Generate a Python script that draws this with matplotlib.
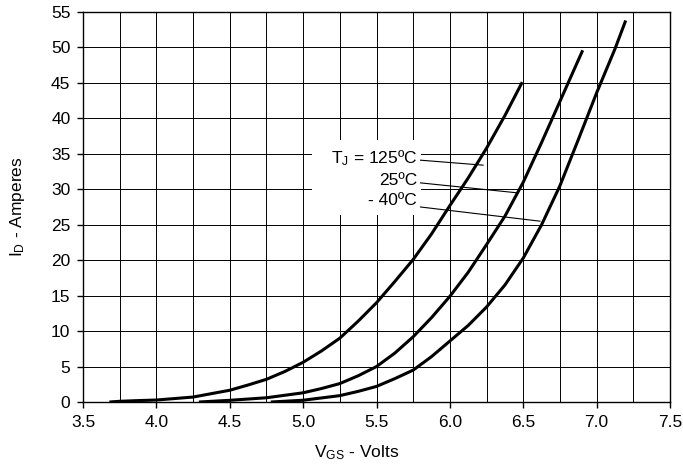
import matplotlib
matplotlib.use("Agg")
import matplotlib.pyplot as plt
from matplotlib.patches import Rectangle
from matplotlib.ticker import MultipleLocator

plt.rcParams['font.family'] = ['Liberation Sans', 'DejaVu Sans']
plt.rcParams['mathtext.fontset'] = 'custom'
plt.rcParams['mathtext.rm'] = 'Liberation Sans'
plt.rcParams['mathtext.it'] = 'Liberation Sans:italic'

# transfer characteristics
vgs_125 = [3.68, 3.75, 3.875, 4.0, 4.25, 4.5, 4.625, 4.75, 4.875, 5.0, 5.125,
           5.25, 5.375, 5.5, 5.625, 5.75, 5.875, 6.0, 6.125, 6.25, 6.375, 6.493]
id_125 = [0.0, 0.1, 0.2, 0.28, 0.7, 1.66, 2.4, 3.2, 4.3, 5.6, 7.2,
          9.0, 11.4, 14.0, 17.0, 20.1, 23.7, 27.7, 31.6, 35.8, 40.4, 45.1]

vgs_25 = [4.29, 4.5, 4.75, 5.0, 5.125, 5.25, 5.375, 5.5, 5.625, 5.75, 5.875,
          6.0, 6.125, 6.25, 6.375, 6.5, 6.625, 6.75, 6.905]
id_25 = [0.0, 0.24, 0.6, 1.3, 1.9, 2.6, 3.7, 5.0, 6.9, 9.2, 11.9,
         14.9, 18.3, 22.2, 26.2, 31.0, 36.6, 42.4, 49.6]

vgs_m40 = [4.78, 5.0, 5.25, 5.375, 5.5, 5.625, 5.75, 5.875, 6.0, 6.125, 6.25,
           6.375, 6.5, 6.625, 6.75, 6.875, 7.0, 7.125, 7.198]
id_m40 = [0.0, 0.25, 0.9, 1.5, 2.2, 3.3, 4.5, 6.4, 8.6, 10.8, 13.4,
          16.5, 20.3, 25.0, 30.5, 37.0, 43.6, 49.8, 53.8]

labels = ["T$_{\\rm J}$ = 125ºC", "25ºC", "- 40ºC"]
label_y = [34.45, 31.3, 28.35]
leader_start = [(5.80, 34.1), (5.80, 30.9), (5.80, 27.5)]
leader_end = [(6.226, 33.4), (6.458, 29.5), (6.614, 25.5)]

x_ticks = [3.5, 4.0, 4.5, 5.0, 5.5, 6.0, 6.5, 7.0, 7.5]
y_ticks = list(range(0, 60, 5))

fs = 12.5

fig = plt.figure(figsize=(6.83, 4.68), dpi=100)
ax = fig.add_axes([0.1215, 0.141, 0.8595, 0.8334])

ax.set_xlim(3.5, 7.5)
ax.set_ylim(0, 55)
ax.set_xticks(x_ticks)
ax.set_xticklabels([f"{t:.1f}" for t in x_ticks])
ax.set_yticks(y_ticks)
ax.xaxis.set_minor_locator(MultipleLocator(0.25))
ax.tick_params(which='major', direction='out', length=4, width=1, pad=5, labelsize=fs)
ax.tick_params(which='minor', length=0)

ax.grid(True, which='both', axis='x', color='black', lw=0.7, zorder=0)
ax.grid(True, which='major', axis='y', color='black', lw=0.7, zorder=0)
ax.set_axisbelow(True)

# white patch behind the annotation block
ax.add_patch(Rectangle((5.06, 26.4), 0.74, 10.55, facecolor='white',
                       edgecolor='none', zorder=1))

for v, i in [(vgs_125, id_125), (vgs_25, id_25), (vgs_m40, id_m40)]:
    ax.plot(v, i, color='black', lw=2.2, zorder=3, solid_capstyle='butt')

for txt, y, s, e in zip(labels, label_y, leader_start, leader_end):
    ax.text(5.776, y, txt, ha='right', va='center', fontsize=fs, zorder=4)
    ax.plot([s[0], e[0]], [s[1], e[1]], color='black', lw=0.8, zorder=4)

for sp in ax.spines.values():
    sp.set_linewidth(1.0)
    sp.set_color('black')

ax.set_xlabel("V$_{\\rm GS}$ - Volts", fontsize=fs)
ax.set_ylabel("I$_{\\rm D}$ - Amperes", fontsize=fs)
ax.xaxis.set_label_coords(0.467, -0.105)
ax.yaxis.set_label_coords(-0.095, 0.5)

fig.savefig("out.png", dpi=100)
